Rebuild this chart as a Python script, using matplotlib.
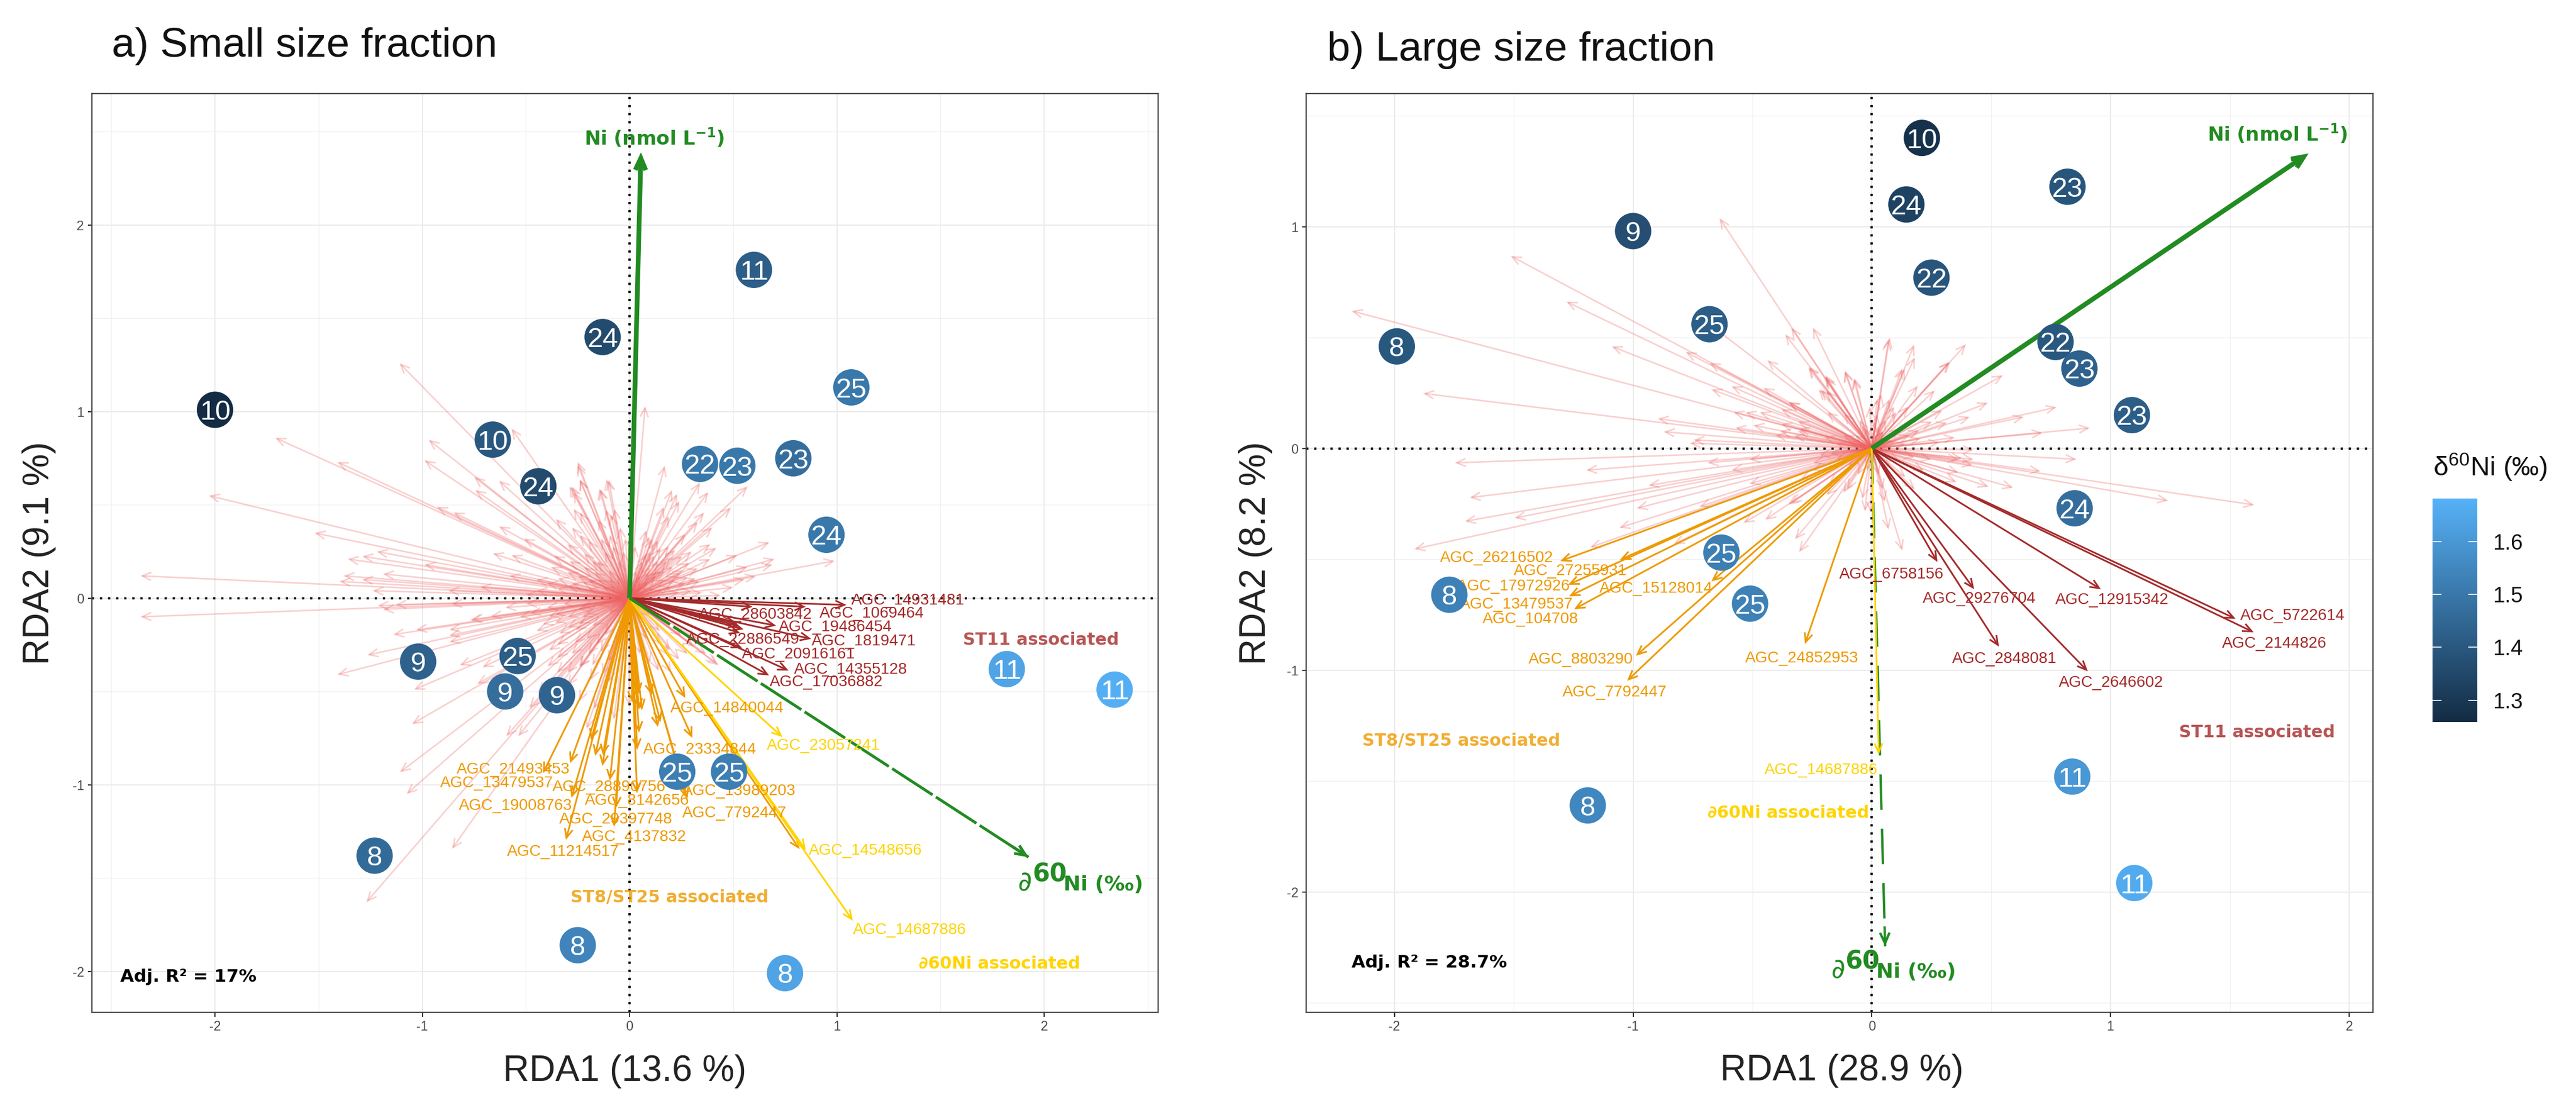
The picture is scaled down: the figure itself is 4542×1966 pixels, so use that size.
import matplotlib
matplotlib.use('Agg')
import matplotlib.pyplot as plt
from matplotlib.colors import LinearSegmentedColormap
from matplotlib.patches import FancyArrowPatch

plt.rcParams['font.family'] = ['Liberation Sans', 'DejaVu Sans']
plt.rcParams['mathtext.fontset'] = 'dejavusans'

W, H, DPI = 4542, 1966, 300

PINK = '#EE6363'
RED = '#A52A2A'
ORANGE = '#EE9A00'
YELLOW = '#FFD400'
GREEN = '#228B22'

# ---------------- panel a: samples
a_x = [-2.0, -0.66, -0.13, 0.6, 1.07, -0.44, 0.34, 0.52, 0.79, 0.95, -0.54, -1.02, -0.6, -0.35, 0.23, 0.48, 1.82, 2.34, -1.23, -0.25, 0.75]
a_y = [1.01, 0.85, 1.40, 1.76, 1.13, 0.6, 0.72, 0.71, 0.75, 0.34, -0.31, -0.34, -0.5, -0.52, -0.93, -0.93, -0.38, -0.49, -1.38, -1.86, -2.01]
a_st = ['10', '10', '24', '11', '25', '24', '22', '23', '23', '24', '25', '9', '9', '9', '25', '25', '11', '11', '8', '8', '8']
a_v = [1.26, 1.40, 1.36, 1.42, 1.50, 1.36, 1.50, 1.50, 1.47, 1.50, 1.42, 1.43, 1.47, 1.44, 1.52, 1.52, 1.64, 1.67, 1.46, 1.54, 1.64]

# panel a: other ASVs, tips
a_pink = [
    (-1.11, 1.26), (-0.57, 0.91), (0.075, 1.03), (-1.71, 0.86), (-1.41, 0.73), (-0.97, 0.85), (-0.99, 0.74),
    (-0.25, 0.73), (-2.03, 0.55), (-0.75, 0.65), (-0.63, 0.63), (-0.745, 0.58), (-0.10, 0.635), (-0.28, 0.60),
    (-0.24, 0.635), (-0.14, 0.585), (0.17, 0.71), (-0.93, 0.49), (-0.85, 0.46), (-1.52, 0.35), (-0.63, 0.385),
    (-0.51, 0.32), (-1.36, 0.21), (-1.29, 0.225), (-1.22, 0.25), (-0.99, 0.18), (-0.66, 0.24), (-0.57, 0.23),
    (-2.36, 0.12), (-1.40, 0.09), (-1.38, 0.12), (-1.29, 0.10), (-1.19, 0.13), (-1.24, 0.04), (-0.875, 0.04),
    (-2.36, -0.10), (-1.215, -0.04), (-1.19, -0.06), (-1.13, -0.035), (-0.86, -0.03), (-0.76, -0.115),
    (-1.03, -0.17), (-1.14, -0.195), (-0.87, -0.17), (-0.87, -0.2), (-0.87, -0.235), (-1.265, -0.305),
    (-1.41, -0.41), (-0.82, -0.36), (-0.71, -0.37), (-1.04, -0.49), (-0.735, -0.46), (-1.05, -0.675),
    (-0.485, -0.59), (-0.595, -0.74), (-0.537, -0.74), (-1.108, -0.933), (-1.076, -1.05), (-0.857, -1.344),
    (-1.27, -1.63), (-0.77, -0.118), (-0.67, -0.097), (-0.53, -0.1),
    (-0.39, -0.28), (-0.396, -0.366), (-0.35, -0.40), (-0.443, -0.508), (-0.30, -0.47), (-0.244, -0.37),
    (-0.244, -0.553), (-0.207, -0.70), (-0.076, -0.65), (-0.17, -0.594), (-0.003, -0.58), (-0.265, -0.24),
    (-0.35, -0.25), (-0.35, -0.32), (-0.21, -0.22), (-0.14, -0.29), (-0.19, -0.44), (-0.13, -0.41),
    (-0.34, -0.19), (-0.45, -0.175), (-0.3, -0.158), (-0.244, -0.138), (-0.39, -0.097), (-0.36, -0.087),
    (-0.234, -0.047), (-0.21, -0.087), (0.14, -0.39), (0.196, -0.28), (0.42, -0.35), (0.43, -0.36),
    (0.37, -0.3), (0.31, -0.26), (0.19, -0.31), (0.146, -0.177),
    (0.57, 0.60), (0.34, 0.62), (0.38, 0.57), (0.205, 0.58), (0.23, 0.56), (0.24, 0.52), (0.165, 0.49),
    (0.49, 0.486), (0.36, 0.46), (0.19, 0.44), (0.33, 0.41), (0.40, 0.38), (0.27, 0.345), (0.08, 0.365),
    (0.095, 0.33), (0.675, 0.30), (0.39, 0.29), (0.42, 0.27), (0.39, 0.21), (0.52, 0.23), (0.70, 0.21),
    (0.69, 0.18), (0.57, 0.167), (0.61, 0.117), (0.556, 0.10), (0.99, 0.20), (0.50, 0.058), (0.44, 0.015),
    (0.33, 0.16), (0.32, 0.106), (0.29, 0.19), (0.246, 0.137), (0.19, 0.28), (0.137, 0.31), (0.11, 0.32),
    (0.18, 0.2), (0.12, 0.23), (0.155, 0.147), (0.22, 0.096), (0.255, 0.228), (0.027, 0.28),
    (-0.25, 0.714), (-0.24, 0.638), (-0.29, 0.6), (-0.27, 0.57), (-0.11, 0.638), (-0.146, 0.587),
    (-0.114, 0.476), (-0.27, 0.48), (-0.24, 0.46), (-0.073, 0.48), (-0.09, 0.45), (-0.15, 0.42),
    (-0.356, 0.425), (-0.278, 0.38), (-0.24, 0.34), (-0.046, 0.38), (-0.096, 0.34), (-0.137, 0.32),
    (-0.2, 0.31), (-0.02, 0.32), (-0.3, 0.29), (-0.365, 0.228), (-0.29, 0.2), (-0.155, 0.2), (-0.22, 0.167),
    (-0.38, 0.167), (-0.347, 0.106), (-0.228, 0.086), (-0.3, 0.066), (-0.5, 0.02), (-0.6, -0.05),
    (-0.72, 0.06), (-0.45, 0.1), (-0.58, 0.12),
    # the dense cloud round the origin, estimated
    (0.05, 0.12), (0.09, 0.09), (0.13, 0.12), (0.17, 0.1), (0.2, 0.06), (0.1, 0.17), (0.06, 0.2), (0.14, 0.2),
    (0.23, 0.12), (0.27, 0.08), (0.3, 0.04), (0.16, 0.04), (0.24, 0.03), (0.08, 0.24), (0.15, 0.27), (0.21, 0.17),
    (0.26, 0.15), (0.03, 0.15), (0.12, 0.05), (0.2, 0.22), (0.28, 0.11), (0.17, 0.15), (0.1, 0.25), (0.22, 0.26),
    (0.3, 0.25), (0.34, 0.09), (0.35, 0.03), (0.13, 0.14), (0.06, 0.06), (0.09, 0.14),
    (-0.05, 0.2), (-0.1, 0.15), (-0.15, 0.1), (-0.2, 0.05), (-0.25, 0.12), (-0.12, 0.25), (-0.08, 0.28),
    (-0.18, 0.2), (-0.22, 0.24), (-0.3, 0.14), (-0.06, 0.12), (-0.13, 0.06), (-0.17, 0.14), (-0.35, 0.05),
    (-0.28, 0.08), (-0.2, 0.1), (-0.4, 0.08), (-0.45, 0.04), (-0.1, 0.1), (-0.03, 0.25),
    (-0.15, -0.04), (-0.25, -0.06), (-0.3, -0.1), (-0.1, -0.08), (-0.18, -0.15), (-0.12, -0.2), (-0.26, -0.17),
    (-0.05, -0.15), (-0.4, -0.05), (-0.48, -0.08), (-0.32, -0.03), (-0.2, -0.3), (-0.28, -0.3), (-0.1, -0.34),
    (-0.06, -0.25), (-0.16, -0.25), (-0.23, -0.1), (-0.36, -0.13), (-0.42, -0.14), (-0.5, -0.03), (-0.24, -0.37),
    (-0.3, -0.4), (-0.18, -0.36), (-0.1, -0.45),
    (0.1, -0.1), (0.15, -0.25), (0.25, -0.2), (0.28, -0.3), (0.08, -0.22), (0.05, -0.3), (0.1, -0.35), (0.2, -0.4),
    (0.33, -0.22), (0.24, -0.33),
]

# panel a: associated ASVs (tip x, tip y, label, label x, label y)
a_red = [
    (1.046, -0.036, 'AGC_14931481', 1.343, -0.012),
    (0.593, -0.046, 'AGC_28603842', 0.608, -0.09),
    (0.85, -0.046, None, 0, 0),
    (0.707, -0.147, 'AGC_1069464', 1.168, -0.082),
    (0.876, -0.218, 'AGC_19486454', 0.992, -0.155),
    (0.55, -0.167, 'AGC_22886549', 0.547, -0.222),
    (0.53, -0.15, 'AGC_1819471', 1.129, -0.233),
    (0.534, -0.187, None, 0, 0),
    (0.52, -0.137, None, 0, 0),
    (0.543, -0.268, 'AGC_20916161', 0.814, -0.302),
    (0.767, -0.388, 'AGC_14355128', 1.067, -0.385),
    (0.673, -0.414, 'AGC_17036882', 0.95, -0.45),
]
a_orange = [
    (0.269, -0.535, 'AGC_14840044', 0.471, -0.589),
    (0.303, -0.749, 'AGC_23334844', 0.339, -0.811),
    (-0.418, -0.938, 'AGC_21493453', -0.56, -0.918),
    (-0.287, -0.884, 'AGC_13479537', -0.64, -0.991),
    (-0.095, -0.977, 'AGC_28890756', -0.1, -1.014),
    (-0.065, -1.124, 'AGC_8142656', 0.036, -1.085),
    (-0.28, -1.07, 'AGC_19008763', -0.55, -1.113),
    (-0.075, -1.225, 'AGC_29397748', -0.065, -1.186),
    (0.036, -1.045, 'AGC_4137832', 0.022, -1.282),
    (-0.307, -1.295, 'AGC_11214517', -0.321, -1.361),
    (0.279, -1.077, 'AGC_13989203', 0.527, -1.034),
    (0.82, -1.345, 'AGC_7792447', 0.507, -1.152),
    (-0.186, -0.76, None, 0, 0), (-0.166, -0.845, None, 0, 0), (-0.131, -0.899, None, 0, 0),
    (0.269, -1.047, None, 0, 0), (0.137, -0.69, None, 0, 0), (0.149, -0.665, None, 0, 0),
    (0.046, -0.72, None, 0, 0), (0.037, -0.812, None, 0, 0), (0.046, -0.597, None, 0, 0),
    (0.107, -0.52, None, 0, 0), (0.013, -0.558, None, 0, 0), (0.044, -0.513, None, 0, 0),
    (0.06, -0.60, None, 0, 0), (-0.129, -0.842, None, 0, 0),
]
a_yellow = [
    (0.737, -0.744, 'AGC_23057241', 0.935, -0.792),
    (0.85, -1.35, 'AGC_14548656', 1.137, -1.353),
    (1.077, -1.729, 'AGC_14687886', 1.352, -1.78),
]

# ---------------- panel b: samples
b_x = [0.21, -1.0, 0.145, 0.82, 0.25, -0.68, -1.99, 0.77, 0.87, 1.09, 0.85, -0.63, -1.77, -0.51, -1.19, 0.84, 1.10]
b_y = [1.40, 0.98, 1.10, 1.18, 0.77, 0.56, 0.46, 0.48, 0.36, 0.15, -0.27, -0.47, -0.66, -0.70, -1.61, -1.48, -1.96]
b_st = ['10', '9', '24', '23', '22', '25', '8', '22', '23', '23', '24', '25', '8', '25', '8', '11', '11']
b_v = [1.28, 1.37, 1.33, 1.39, 1.39, 1.42, 1.40, 1.40, 1.43, 1.42, 1.47, 1.52, 1.53, 1.53, 1.55, 1.60, 1.66]

b_pink = [
    (-1.513, 0.868), (-1.28, 0.662), (-1.09, 0.46), (-0.78, 0.435), (-0.68, 0.386), (-2.18, 0.62),
    (-1.88, 0.248), (-0.897, 0.134), (-0.872, 0.075), (-0.747, 0.038), (-0.763, 0.023), (-0.53, 0.163),
    (-0.455, 0.273), (-0.588, 0.28), (-0.672, 0.266), (-0.363, 0.515), (-0.338, 0.545), (-0.247, 0.545),
    (-0.438, 0.398), (-0.263, 0.369), (-0.197, 0.325), (-0.213, 0.266), (-0.113, 0.347), (-0.072, 0.317),
    (0.075, 0.50), (0.178, 0.468), (0.128, 0.361), (0.328, 0.39), (0.395, 0.47), (-0.47, 0.163),
    (-0.347, 0.207), (-0.572, 0.093), (-0.497, 0.104), (-0.58, 0.163), (-0.305, 0.09), (-0.405, 0.06),
    (-0.638, 1.038), (-0.68, 0.56),
    (-1.747, -0.065), (-1.197, -0.098), (-0.688, -0.065), (-0.588, -0.098), (-0.935, -0.167),
    (-1.685, -0.222), (-1.705, -0.329), (-1.497, -0.314), (-1.917, -0.454), (-0.985, -0.27), (-0.722, -0.263),
    (-1.18, -0.446), (-1.058, -0.358), (-0.83, -0.432), (-0.538, -0.336), (-0.447, -0.322), (-0.338, -0.248),
    (-0.322, -0.41), (-0.305, -0.468), (0.128, -0.461), (0.07, -0.366), (-0.005, -0.29), (-0.513, -0.05),
    (-0.513, -0.16),
    (0.181, 0.411), (0.138, 0.36), (0.324, 0.39), (0.55, 0.33), (0.07, 0.49), (0.193, 0.283), (0.265, 0.262),
    (0.487, 0.206), (0.296, 0.172), (0.411, 0.142), (0.637, 0.142), (0.316, 0.117), (0.348, 0.049),
    (0.716, 0.07), (0.914, 0.092), (0.775, 0.186),
    (1.603, -0.255), (1.242, -0.236), (0.858, -0.049), (0.707, -0.103), (0.593, -0.177), (0.49, -0.173),
    (0.427, -0.007), (0.427, -0.05), (0.423, -0.075), (0.364, -0.109), (0.356, -0.152), (0.364, -0.05),
    (0.38, -0.045), (0.142, -0.13), (0.055, -0.241), (0.047, -0.186), (-0.029, -0.284), (-0.04, -0.228),
    (-0.104, -0.186), (-0.35, -0.254), (-0.19, -0.211), (0.181, -0.186),
    (-0.266, 0.364), (-0.195, 0.33), (-0.191, 0.317), (-0.112, 0.351), (-0.076, 0.313), (-0.223, 0.266),
    (-0.191, 0.262), (-0.187, 0.164), (-0.116, 0.159), (-0.35, 0.21), (-0.38, 0.176), (-0.38, 0.11),
    (-0.31, 0.121), (-0.31, 0.078), (-0.385, 0.078), (-0.326, 0.057), (-0.009, 0.189), (0.039, 0.245),
    (0.074, 0.223), (0.094, 0.189), (0.023, 0.223), (0.102, 0.164), (0.154, 0.189), (0.011, 0.121),
    (-0.04, 0.104), (0.023, 0.155), (0.047, 0.078), (0.205, 0.044), (0.086, 0.036), (0.142, 0.019),
    (0.253, 0.121), (0.284, 0.027), (-0.246, -0.066), (-0.175, -0.024),
    # short ones round the origin, estimated
    (0.05, 0.08), (0.08, 0.05), (0.1, 0.03), (0.03, 0.1), (-0.03, 0.09), (-0.07, 0.06), (-0.1, 0.03), (-0.12, 0.06),
    (-0.05, 0.13), (0.06, 0.13), (0.12, 0.09), (0.16, 0.06), (0.2, 0.08), (-0.15, 0.02), (-0.2, 0.05), (-0.22, -0.03),
    (-0.15, -0.05), (-0.1, -0.08), (-0.06, -0.12), (-0.02, -0.1), (0.03, -0.12), (0.08, -0.09), (0.12, -0.06),
    (0.18, -0.04), (0.25, -0.05), (0.22, -0.1), (-0.25, -0.1), (-0.3, -0.14), (-0.18, -0.16), (-0.12, -0.2),
]

b_red = [
    (1.524, -0.768, 'AGC_5722614', 1.762, -0.755),
    (1.60, -0.829, 'AGC_2144826', 1.687, -0.881),
    (0.96, -0.635, 'AGC_12915342', 1.007, -0.685),
    (0.905, -1.005, 'AGC_2646602', 1.002, -1.057),
    (0.533, -0.894, 'AGC_2848081', 0.555, -0.949),
    (0.429, -0.635, 'AGC_29276704', 0.451, -0.679),
    (0.275, -0.512, 'AGC_6758156', 0.082, -0.568),
]
b_orange = [
    (-1.305, -0.508, 'AGC_26216502', -1.572, -0.495),
    (-1.055, -0.502, 'AGC_27255931', -1.262, -0.554),
    (-1.272, -0.615, 'AGC_17972926', -1.5, -0.623),
    (-1.268, -0.667, 'AGC_13479537', -1.488, -0.703),
    (-1.247, -0.725, 'AGC_104708', -1.43, -0.771),
    (-0.672, -0.60, 'AGC_15128014', -0.903, -0.633),
    (-0.988, -0.935, 'AGC_8803290', -1.218, -0.953),
    (-1.025, -1.048, 'AGC_7792447', -1.078, -1.101),
    (-0.28, -0.882, 'AGC_24852953', -0.292, -0.946),
]
b_yellow = [(0.029, -1.38, 'AGC_14687886', -0.213, -1.45)]

cb_ticks = [1.3, 1.4, 1.5, 1.6]
cmap = LinearSegmentedColormap.from_list('ggblue', ['#132B43', '#56B1F7'])
vmin, vmax = 1.259, 1.681


def add_axes(left, right, top, bottom):
    return fig.add_axes([left / W, 1 - bottom / H, (right - left) / W, (bottom - top) / H])


def arrow(ax, x, y, color, lw, alpha=1.0, z=3, hl=3.8, hw=1.7, start=0.0):
    # start > 0 draws only the last part of the arrow, used for the head of the dashed ones
    style = '->,head_length=%s,head_width=%s' % (hl, hw)
    ax.add_patch(FancyArrowPatch((start * x, start * y), (x, y), arrowstyle=style, mutation_scale=1, shrinkA=0, shrinkB=0,
                                 color=color, lw=lw, alpha=alpha, zorder=z, joinstyle='miter', capstyle='butt'))


def draw_group(ax, rows, color, z):
    for tx, ty, name, lx, ly in rows:
        arrow(ax, tx, ty, color, 0.72, z=z)
        if name:
            ax.text(lx, ly, name, color=color, fontsize=6.7, ha='center', va='center', zorder=5)


def draw_panel(ax, xlim, ylim, xmajor, ymajor, xminor, yminor, xs, ys, st, vals, pink):
    ax.set_xlim(xlim)
    ax.set_ylim(ylim)
    ax.set_xticks(xmajor)
    ax.set_yticks(ymajor)
    ax.set_xticks(xminor, minor=True)
    ax.set_yticks(yminor, minor=True)
    ax.set_xticklabels([str(v) for v in xmajor])
    ax.set_yticklabels([str(v) for v in ymajor])
    ax.tick_params(which='major', length=1.8, width=0.5, color='#333333', labelcolor='#4D4D4D', labelsize=5.6, pad=1.5)
    ax.tick_params(which='minor', length=0)
    ax.grid(which='major', color='#EBEBEB', lw=0.5)
    ax.grid(which='minor', color='#F0F0F0', lw=0.3)
    ax.set_axisbelow(True)
    for s in ax.spines.values():
        s.set_color('#444444')
        s.set_linewidth(0.55)
    ax.axhline(0, color='black', lw=0.95, ls=(0, (1, 2.6)), zorder=1.5)
    ax.axvline(0, color='black', lw=0.95, ls=(0, (1, 2.6)), zorder=1.5)
    for px, py in pink:
        arrow(ax, px, py, PINK, 0.65, alpha=0.3, z=2)
    ax.scatter(xs, ys, c=vals, s=237, cmap=cmap, vmin=vmin, vmax=vmax, linewidths=0, zorder=8)
    for x, y, t in zip(xs, ys, st):
        ax.text(x, y, t, color='white', fontsize=11.8, ha='center', va='center_baseline', zorder=9)


def delta_label(ax, x, y):
    # ∂, 60 and Ni (‰) sit at their own offsets, the picture has them at three sizes
    kw = dict(color=GREEN, family='DejaVu Sans', textcoords='offset points', ha='left', va='baseline', zorder=7)
    ax.annotate('∂', (x, y), xytext=(0, 0), fontsize=11.5, **kw)
    ax.annotate('60', (x, y), xytext=(6, 3.8), fontsize=10.5, fontweight='bold', **kw)
    ax.annotate('Ni (‰)', (x, y), xytext=(19.2, 0), fontsize=8.7, fontweight='bold', **kw)


def group_label(ax, x, y, txt, color, alpha=1.0):
    ax.text(x, y, txt, color=color, alpha=alpha, family='DejaVu Sans', fontweight='bold', fontsize=7.2, ha='center', va='center')


fig = plt.figure(figsize=(W / DPI, H / DPI), dpi=DPI, facecolor='white')

# ---------------- a) small size fraction
ax1 = add_axes(162, 2042, 165, 1785)
draw_panel(ax1, (-2.594, 2.55), (-2.22, 2.705), [-2, -1, 0, 1, 2], [-2, -1, 0, 1, 2],
           [-2.5, -1.5, -0.5, 0.5, 1.5, 2.5], [-1.5, -0.5, 0.5, 1.5, 2.5], a_x, a_y, a_st, a_v, a_pink)
draw_group(ax1, a_red, RED, 3)
draw_group(ax1, a_orange, ORANGE, 3.2)
draw_group(ax1, a_yellow, YELLOW, 3.4)
arrow(ax1, 0.055, 2.39, GREEN, 2.0, z=4, hl=5, hw=2.2)
ax1.plot([0, 1.925], [0, -1.388], color=GREEN, lw=1.2, ls=(0, (17, 1.4)), zorder=3.5, dash_capstyle='butt')
arrow(ax1, 1.925, -1.388, GREEN, 1.2, z=3.5, hl=4.5, hw=2, start=0.96)
ax1.text(0.12, 2.47, r'$\mathbf{Ni\ (nmol\ L^{-1})}$', color=GREEN, fontsize=8.2, ha='center', va='center', zorder=7)
delta_label(ax1, 1.874, -1.566)
group_label(ax1, 1.986, -0.225, 'ST11 associated', RED, 0.8)
group_label(ax1, 0.194, -1.605, 'ST8/ST25 associated', ORANGE, 0.8)
group_label(ax1, 1.784, -1.961, '∂60Ni associated', YELLOW)
ax1.text(-2.457, -2.03, 'Adj. R² = 17%', color='black', family='DejaVu Sans', fontweight='bold', fontsize=7.5, ha='left', va='center')
ax1.set_xlabel('RDA1 (13.6 %)', fontsize=15.3, color='#222222', labelpad=9)
ax1.set_ylabel('RDA2 (9.1 %)', fontsize=15.3, color='#222222', labelpad=7)
fig.text(197 / W, 1 - 100 / H, 'a) Small size fraction', fontsize=17.6, va='baseline', ha='left', color='#111111')

# ---------------- b) large size fraction
ax2 = add_axes(2303, 4184, 165, 1785)
draw_panel(ax2, (-2.37, 2.10), (-2.543, 1.60), [-2, -1, 0, 1, 2], [-2, -1, 0, 1],
           [-1.5, -0.5, 0.5, 1.5], [-2.5, -1.5, -0.5, 0.5, 1.5], b_x, b_y, b_st, b_v, b_pink)
draw_group(ax2, b_red, RED, 3)
draw_group(ax2, b_orange, ORANGE, 3.2)
draw_group(ax2, b_yellow, YELLOW, 3.4)
arrow(ax2, 1.83, 1.33, GREEN, 2.0, z=4, hl=5, hw=2.2)
ax2.plot([0, 0.056], [0, -2.245], color=GREEN, lw=1.0, ls=(0, (15, 8)), zorder=2.8, dash_capstyle='butt')
arrow(ax2, 0.056, -2.245, GREEN, 1.0, z=2.8, hl=4.5, hw=2, start=0.96)
ax2.text(1.70, 1.42, r'$\mathbf{Ni\ (nmol\ L^{-1})}$', color=GREEN, fontsize=8.2, ha='center', va='center', zorder=7)
delta_label(ax2, -0.171, -2.387)
group_label(ax2, 1.615, -1.282, 'ST11 associated', RED, 0.8)
group_label(ax2, -1.72, -1.32, 'ST8/ST25 associated', ORANGE, 0.8)
group_label(ax2, -0.35, -1.644, '∂60Ni associated', YELLOW)
ax2.text(-1.855, -2.32, 'Adj. R² = 28.7%', color='black', family='DejaVu Sans', fontweight='bold', fontsize=7.5, ha='center', va='center')
ax2.set_xlabel('RDA1 (28.9 %)', fontsize=15.3, color='#222222', labelpad=9)
ax2.xaxis.set_label_coords(0.502, -0.045)
ax2.set_ylabel('RDA2 (8.2 %)', fontsize=15.3, color='#222222', labelpad=6)
fig.text(2340 / W, 1 - 107 / H, 'b) Large size fraction', fontsize=17.6, va='baseline', ha='left', color='#111111')

# ---------------- colour bar
cax = add_axes(4289, 4368, 879, 1273)
sm = plt.cm.ScalarMappable(cmap=cmap, norm=plt.Normalize(vmin, vmax))
cbar = fig.colorbar(sm, cax=cax, ticks=cb_ticks)
cbar.outline.set_visible(False)
cbar.ax.set_yticklabels([str(v) for v in cb_ticks])
cbar.ax.tick_params(length=0, labelsize=9.2, pad=6.5, labelcolor='#111111')
cbar.ax.hlines(cb_ticks, 0, 0.2, color='white', lw=0.4)
cbar.ax.hlines(cb_ticks, 0.8, 1, color='white', lw=0.4)
fig.text(4290 / W, 1 - 839 / H, r'$\mathregular{\delta^{60}Ni}$ (‰)', fontsize=11.4, ha='left', va='baseline', color='#111111')

fig.savefig('out.png', dpi=DPI)
